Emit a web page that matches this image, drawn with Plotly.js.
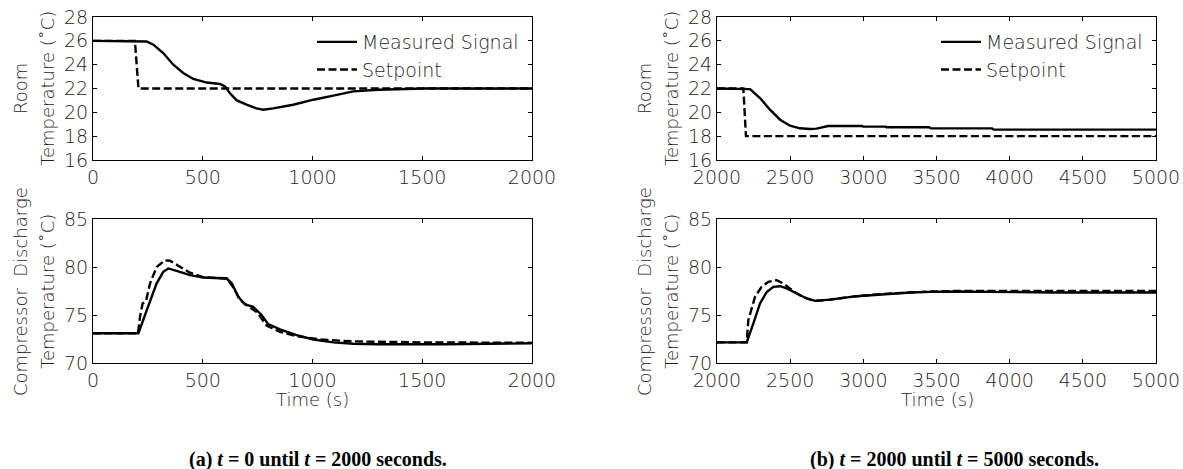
<!DOCTYPE html>
<html><head><meta charset="utf-8">
<script src="https://cdn.plot.ly/plotly-3.0.1.min.js"></script>
<style>html,body{margin:0;padding:0;background:#fff}#chart{width:1183px;height:469px}</style>
</head><body><div id="chart"></div><script>
// ---- Data ----
// (a) Room temperature, t = 0..2000
const roomA_measTime = [0, 244, 275, 320, 366, 411, 457, 518, 579, 601, 624, 655, 700, 745, 776, 821, 912, 1004, 1095, 1186, 1300, 1400, 1510, 2000];
const roomA_meas     = [26, 25.95, 25.68, 24.98, 24.0, 23.3, 22.8, 22.5, 22.38, 22.18, 21.6, 21.0, 20.64, 20.33, 20.22, 20.33, 20.64, 21.06, 21.4, 21.76, 21.9, 21.95, 22.0, 22.0];
const roomA_spTime   = [0, 191, 207, 2000];
const roomA_sp       = [26, 26, 22, 22];

// (a) Compressor discharge temperature, t = 0..2000
const compA_measTime = [0, 207, 245, 290, 320, 343, 381, 442, 502, 609, 632, 662, 693, 730, 768, 798, 852, 928, 1004, 1095, 1186, 1300, 1600, 2000];
const compA_meas     = [73.1, 73.1, 75.5, 78.3, 79.5, 79.85, 79.6, 79.15, 78.9, 78.8, 78.3, 76.9, 76.1, 75.85, 75.0, 74.05, 73.5, 72.9, 72.45, 72.15, 72.0, 71.95, 71.95, 72.05];
const compA_spTime   = [0, 205, 214, 226, 241, 260, 290, 328, 351, 396, 442, 502, 609, 639, 670, 708, 746, 791, 852, 928, 1034, 1186, 1500, 2000];
const compA_sp       = [73.1, 73.1, 74.8, 76.2, 76.4, 78.3, 80.0, 80.7, 80.65, 80.0, 79.4, 78.95, 78.8, 77.9, 76.55, 75.9, 75.3, 73.9, 73.25, 72.8, 72.45, 72.25, 72.15, 72.1];

// (b) Room temperature, t = 2000..5000
const roomB_measTime = [2000, 2215, 2226, 2294, 2362, 2431, 2499, 2567, 2636, 2680, 2720, 2760, 2990, 3000, 3150, 3160, 3450, 3460, 3880, 3890, 5000];
const roomB_meas     = [22, 22, 21.95, 21.2, 20.22, 19.38, 18.88, 18.66, 18.6, 18.63, 18.75, 18.85, 18.85, 18.8, 18.8, 18.75, 18.75, 18.65, 18.65, 18.55, 18.55];
const roomB_spTime   = [2000, 2180, 2198, 5000];
const roomB_sp       = [22, 22, 18, 18];

// (b) Compressor discharge temperature, t = 2000..5000
const compB_measTime = [2000, 2203, 2248, 2294, 2340, 2385, 2431, 2476, 2545, 2613, 2670, 2772, 2955, 3137, 3319, 3456, 3636, 4300, 5000];
const compB_meas     = [72.15, 72.15, 74.1, 76.2, 77.4, 77.93, 78.0, 77.77, 77.24, 76.72, 76.47, 76.6, 76.96, 77.17, 77.35, 77.41, 77.45, 77.35, 77.35];
const compB_spTime   = [2000, 2203, 2214, 2260, 2305, 2351, 2408, 2453, 2500, 2545, 2613, 2670, 2772, 2955, 3137, 3319, 3456, 3636, 5000];
const compB_sp       = [72.15, 72.15, 74.46, 76.9, 77.93, 78.46, 78.63, 78.29, 77.75, 77.24, 76.72, 76.47, 76.6, 76.96, 77.2, 77.38, 77.45, 77.5, 77.5];

// Tick labels
const ticksA   = [0, 500, 1000, 1500, 2000];
const ticksB   = [2000, 2500, 3000, 3500, 4000, 4500, 5000];
const roomTicks = [16, 18, 20, 22, 24, 26, 28];
const compTicks = [70, 75, 80, 85];

const seriesNames = ['Measured Signal', 'Setpoint'];
const roomTitle = ['Room', 'Temperature (˚C)'];
const compTitle = ['Compressor  Discharge', 'Temperature (˚C)'];
const timeTitle = 'Time (s)';
const captionA = '<b>(a) <i>t</i> = 0 until <i>t</i> = 2000 seconds.</b>';
const captionB = '<b>(b) <i>t</i> = 2000 until <i>t</i> = 5000 seconds.</b>';

// ---- Layout helpers ----
const W = 1183, H = 469;
const px = v => v / W;
const py = v => 1 - v / H;
const FONT = 'DejaVu Sans, sans-serif';
const TXT = '#1e1e1e';
const FS = 19;

function xax(range, ticks, l, r, anchor) {
  return {range: range, tickvals: ticks, domain: [px(l), px(r)], anchor: anchor,
    showline: true, linecolor: '#000', linewidth: 1, mirror: 'allticks',
    ticks: 'inside', ticklen: 4, tickcolor: '#000', showgrid: false, zeroline: false,
    tickfont: {family: FONT, size: FS, color: TXT, weight: 200}};
}
function yax(range, ticks, t, b, anchor) {
  return {range: range, tickvals: ticks, domain: [py(b), py(t)], anchor: anchor,
    showline: true, linecolor: '#000', linewidth: 1, mirror: 'allticks',
    ticks: 'inside', ticklen: 4, tickcolor: '#000', showgrid: false, zeroline: false,
    tickfont: {family: FONT, size: FS, color: TXT, weight: 200}};
}

const solid = {color: '#000', width: 2.4};
const dashed = {color: '#000', width: 2.4, dash: '8px,3.5px'};

const traces = [
  {x: roomA_measTime, y: roomA_meas, xaxis: 'x', yaxis: 'y', mode: 'lines', name: seriesNames[0], line: solid, legend: 'legend'},
  {x: roomA_spTime, y: roomA_sp, xaxis: 'x', yaxis: 'y', mode: 'lines', name: seriesNames[1], line: dashed, legend: 'legend'},
  {x: compA_measTime, y: compA_meas, xaxis: 'x2', yaxis: 'y2', mode: 'lines', name: seriesNames[0], line: solid, showlegend: false},
  {x: compA_spTime, y: compA_sp, xaxis: 'x2', yaxis: 'y2', mode: 'lines', name: seriesNames[1], line: dashed, showlegend: false},
  {x: roomB_measTime, y: roomB_meas, xaxis: 'x3', yaxis: 'y3', mode: 'lines', name: seriesNames[0], line: solid, legend: 'legend2'},
  {x: roomB_spTime, y: roomB_sp, xaxis: 'x3', yaxis: 'y3', mode: 'lines', name: seriesNames[1], line: dashed, legend: 'legend2'},
  {x: compB_measTime, y: compB_meas, xaxis: 'x4', yaxis: 'y4', mode: 'lines', name: seriesNames[0], line: solid, showlegend: false},
  {x: compB_spTime, y: compB_sp, xaxis: 'x4', yaxis: 'y4', mode: 'lines', name: seriesNames[1], line: dashed, showlegend: false}
];

function txt(text, x, y, angle, extra) {
  return Object.assign({text: text, xref: 'paper', yref: 'paper', x: px(x), y: py(y),
    xanchor: 'center', yanchor: 'middle', showarrow: false, textangle: angle || 0,
    font: {family: FONT, size: 18, color: TXT, weight: 200}}, extra || {});
}
const capFont = {font: {family: 'Liberation Serif, Times New Roman, serif', size: 20, color: '#000'}};

const annotations = [
  txt(roomTitle[0], 20, 89, -90), txt(roomTitle[1], 47, 89, -90),
  txt(compTitle[0], 20, 292, -90), txt(compTitle[1], 47, 292, -90),
  txt(roomTitle[0], 644, 89, -90), txt(roomTitle[1], 671, 89, -90),
  txt(compTitle[0], 644, 292, -90), txt(compTitle[1], 671, 292, -90),
  txt(timeTitle, 312, 399, 0), txt(timeTitle, 937, 399, 0),
  txt(captionA, 318, 459, 0, capFont),
  txt(captionB, 954, 459, 0, capFont)
];

const legendBase = {bgcolor: 'rgba(0,0,0,0)', borderwidth: 0, xanchor: 'left', yanchor: 'top',
  font: {family: FONT, size: FS, color: TXT, weight: 200}, tracegroupgap: 0, itemwidth: 40};

const layout = {
  width: W, height: H, margin: {l: 0, r: 0, t: 0, b: 0},
  paper_bgcolor: '#fff', plot_bgcolor: '#fff',
  font: {family: FONT, size: FS, color: TXT},
  xaxis: xax([0, 2000], ticksA, 93, 532, 'y'),
  yaxis: yax([16, 28], roomTicks, 17, 160, 'x'),
  xaxis2: xax([0, 2000], ticksA, 93, 532, 'y2'),
  yaxis2: yax([70, 85], compTicks, 219, 363, 'x2'),
  xaxis3: xax([2000, 5000], ticksB, 717, 1156, 'y3'),
  yaxis3: yax([16, 28], roomTicks, 17, 160, 'x3'),
  xaxis4: xax([2000, 5000], ticksB, 717, 1156, 'y4'),
  yaxis4: yax([70, 85], compTicks, 219, 363, 'x4'),
  legend: Object.assign({x: px(312), y: py(23)}, legendBase),
  legend2: Object.assign({x: px(936), y: py(23)}, legendBase),
  annotations: annotations,
  showlegend: true
};

Plotly.newPlot('chart', traces, layout, {staticPlot: true, displayModeBar: false});
</script></body></html>
